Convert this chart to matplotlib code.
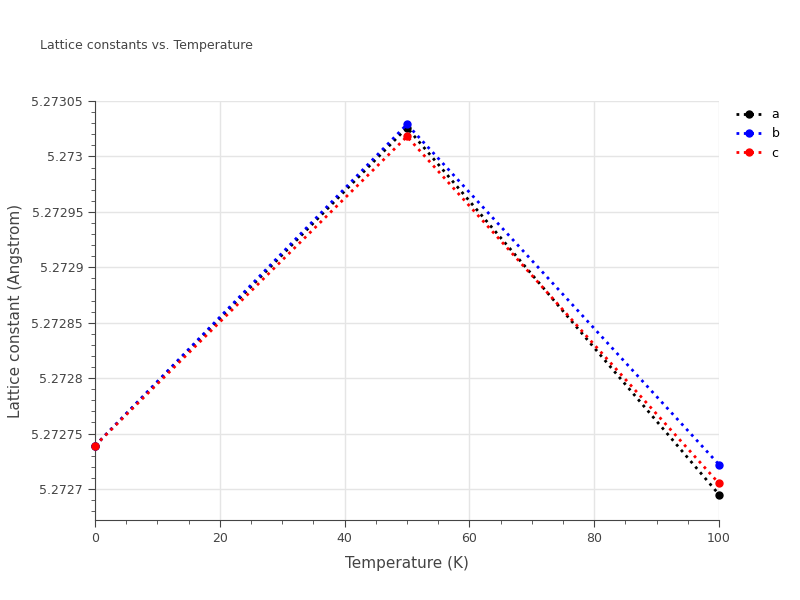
import matplotlib; matplotlib.use("Agg")
import matplotlib.pyplot as plt
from matplotlib.ticker import FuncFormatter, MultipleLocator

temps = [0, 50, 100]
lat_a = [5.272739, 5.273026, 5.272695]
lat_b = [5.272739, 5.273029, 5.272722]
lat_c = [5.272739, 5.273018, 5.272705]
series = [("a", lat_a, "black"), ("b", lat_b, "blue"), ("c", lat_c, "red")]

GRID, INK = "#e5e5e5", "#444444"
fig = plt.figure(figsize=(8, 6), dpi=100)
ax = fig.add_axes([95/800, 1-520/600, (719-95)/800, (520-101)/600])
for name, vals, col in series:
    ax.plot(temps, vals, ":", color=col, lw=2, marker="o", ms=5, label=name, clip_on=False, zorder=3)

ax.set_xlim(0, 100)
ax.set_ylim(5.272672, 5.27305)
ax.xaxis.set_major_locator(MultipleLocator(20))
ax.xaxis.set_minor_locator(MultipleLocator(5))
ax.yaxis.set_major_locator(MultipleLocator(0.00005))
ax.yaxis.set_minor_locator(MultipleLocator(0.00001))
ax.yaxis.set_major_formatter(FuncFormatter(lambda v, p: f"{v:.5f}".rstrip("0").rstrip(".")))
ax.grid(True, which="major", color=GRID, lw=1)
ax.tick_params(which="both", colors=INK, labelsize=9, direction="out")
ax.tick_params(which="major", length=5)
ax.tick_params(which="minor", length=3)
for s in ("top", "right"):
    ax.spines[s].set_visible(False)
for s in ("left", "bottom"):
    ax.spines[s].set_color(INK)
ax.set_xlabel("Temperature (K)", fontsize=11, color=INK, labelpad=8)
ax.set_ylabel("Lattice constant (Angstrom)", fontsize=11, color=INK, labelpad=6)
ax.legend(loc="upper left", bbox_to_anchor=(1.01, 1.01), frameon=False, fontsize=9,
          handlelength=2, labelspacing=0.5)
fig.text(40/800, 1-45/600, "Lattice constants vs. Temperature", fontsize=9, color=INK, va="center")
fig.savefig("out.png", dpi=100)
